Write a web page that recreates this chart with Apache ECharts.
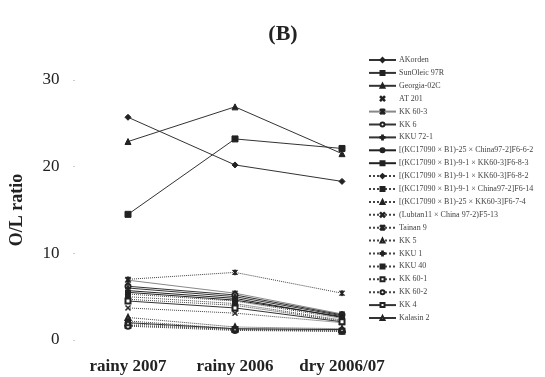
<!DOCTYPE html>
<html>
<head>
<meta charset="utf-8">
<script src="https://cdn.jsdelivr.net/npm/echarts@6/dist/echarts.min.js"></script>
<style>
  html, body { margin: 0; padding: 0; background: #fff; }
  #chart { width: 545px; height: 377px; }
</style>
</head>
<body>
<div id="chart"></div>
<script>
const seasons = ['rainy 2007', 'rainy 2006', 'dry 2006/07'];

const names = [
  'AKorden', 'SunOleic 97R', 'Georgia-02C', 'AT 201', 'KK 60-3', 'KK 6', 'KKU 72-1',
  '[(KC17090 × B1)-25 × China97-2]F6-6-2',
  '[(KC17090 × B1)-9-1 × KK60-3]F6-8-3',
  '[(KC17090 × B1)-9-1 × KK60-3]F6-8-2',
  '[(KC17090 × B1)-9-1 × China97-2]F6-14',
  '[(KC17090 × B1)-25 × KK60-3]F6-7-4',
  '(Lubtan11 × China 97-2)F5-13',
  'Tainan 9', 'KK 5', 'KKU 1', 'KKU 40', 'KK 60-1', 'KK 60-2', 'KK 4', 'Kalasin 2'
];

const akorden = [25.7, 20.2, 18.3];
const sunoleic = [14.5, 23.2, 22.1];
const georgia = [22.9, 26.9, 21.5];
const at201 = [5.0, 4.3, 2.4];
const kk603 = [6.9, 5.4, 3.0];
const kk6 = [6.2, 5.2, 2.9];
const kku721 = [6.0, 5.0, 2.8];
const f662 = [5.7, 4.8, 2.6];
const f683 = [5.5, 4.6, 2.7];
const f682 = [5.3, 4.5, 2.5];
const f614 = [5.0, 4.2, 2.3];
const f674 = [4.7, 4.0, 2.2];
const f513 = [3.7, 3.1, 2.0];
const tainan9 = [7.0, 7.8, 5.4];
const kk5 = [2.6, 1.5, 1.3];
const kku1 = [2.2, 1.3, 1.2];
const kku40 = [1.9, 1.2, 1.1];
const kk601 = [1.7, 1.2, 1.0];
const kk602 = [1.6, 1.1, 1.0];
const kk4 = [4.5, 3.7, 2.1];
const kalasin2 = [2.0, 1.3, 1.2];

const seriesData = [akorden, sunoleic, georgia, at201, kk603, kk6, kku721, f662, f683,
  f682, f614, f674, f513, tainan9, kk5, kku1, kku40, kk601, kk602, kk4, kalasin2];

const X = 'path://M0,1L1,0L5,4L9,0L10,1L6,5L10,9L9,10L5,6L1,10L0,9L4,5Z';
const STAR = 'path://M0,1L1,0L5,4L9,0L10,1L6,5L10,9L9,10L5,6L1,10L0,9L4,5ZM4,0H6V10H4Z';
const PLUS = 'path://M4,0H6V4H10V6H6V10H4V6H0V4H4Z';
const DASH = 'path://M0,4H10V6H0Z';

// marker, line type, line colour
const looks = [
  ['diamond', 'solid', '#333'], ['rect', 'solid', '#333'], ['triangle', 'solid', '#333'],
  [X, 'none', '#333'], [STAR, 'solid', '#888'], ['emptyCircle', 'solid', '#333'],
  [PLUS, 'solid', '#333'], ['none', 'solid', '#222'], [DASH, 'solid', '#222'],
  ['diamond', 'dotted', '#444'], ['rect', 'dotted', '#444'], ['triangle', 'dotted', '#444'],
  [X, 'dotted', '#444'], [STAR, 'dotted', '#444'], ['emptyTriangle', 'dotted', '#444'],
  [PLUS, 'dotted', '#444'], [DASH, 'dotted', '#444'], ['emptyRect', 'dotted', '#444'],
  ['emptyCircle', 'dotted', '#444'], ['emptyRect', 'solid', '#333'], ['emptyTriangle', 'solid', '#333']
];

const serif = '"Liberation Serif", "DejaVu Serif", serif';

const series = names.map((n, i) => {
  const [sym, ltype, lcol] = looks[i];
  return {
    name: n,
    type: 'line',
    data: seriesData[i],
    symbol: sym,
    symbolSize: i < 3 ? 6 : 5,
    showSymbol: true,
    lineStyle: ltype === 'none'
      ? {width: 0, opacity: 0}
      : {width: 1, type: ltype, color: lcol},
    itemStyle: {color: '#222', borderColor: '#222', borderWidth: 1},
    emphasis: {disabled: true},
    animation: false
  };
});

const chart = echarts.init(document.getElementById('chart'));
chart.setOption({
  backgroundColor: '#fff',
  animation: false,
  title: {
    text: '(B)',
    left: 278,
    top: 18,
    textAlign: 'center',
    textStyle: {fontFamily: serif, fontSize: 22, fontWeight: 'bold', color: '#222'}
  },
  legend: {
    orient: 'vertical',
    left: 368,
    top: 56,
    itemWidth: 27,
    itemHeight: 5,
    itemGap: 4.9,
    padding: 0,
    textStyle: {fontFamily: serif, fontSize: 8, color: '#444', padding: [0, 0, 0, -2]},
    data: names
  },
  grid: {left: 74.5, width: 321, top: 80, bottom: 37},
  xAxis: {
    type: 'category',
    data: seasons,
    axisLine: {show: false},
    axisTick: {show: false},
    axisLabel: {
      fontFamily: serif, fontSize: 17, fontWeight: 'bold', color: '#222', margin: 18,
      interval: 0
    }
  },
  yAxis: {
    type: 'value',
    min: 0,
    max: 30,
    interval: 10,
    name: 'O/L ratio',
    nameLocation: 'middle',
    nameGap: 48,
    nameTextStyle: {fontFamily: serif, fontSize: 18, fontWeight: 'bold', color: '#222'},
    axisLine: {show: false},
    axisTick: {show: true, length: 1, lineStyle: {color: '#999'}},
    splitLine: {show: false},
    axisLabel: {fontFamily: serif, fontSize: 17, color: '#222', margin: 15}
  },
  series: series
});
</script>
</body>
</html>
